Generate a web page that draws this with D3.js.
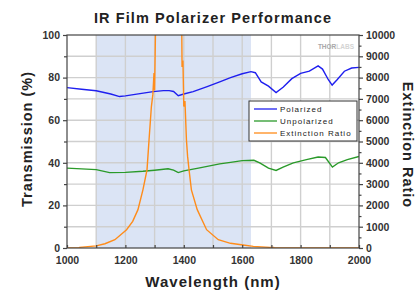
<!DOCTYPE html>
<html>
<head>
<meta charset="utf-8">
<script src="https://cdn.jsdelivr.net/npm/d3@7"></script>
<style>
  body { margin: 0; background: #fff; }
  svg text { font-family: "Liberation Sans", Arial, sans-serif; }
</style>
</head>
<body>
<div id="chart"></div>
<script>
// data
let polWl  = [1000,1050,1100,1150,1180,1200,1250,1295,1330,1350,1365,1381,1400,1432,1480,1523,1560,1600,1630,1645,1665,1690,1716,1740,1770,1800,1830,1860,1875,1895,1908,1925,1950,1975,2000];
let polVal = [75.3,74.5,73.8,72.3,71.1,71.4,72.5,73.4,73.9,73.9,73.5,71.5,72.3,73.4,75.8,78,80,81.8,82.8,82.3,78,76,73,75.5,79.5,82,83,85.5,84,79,76.5,79,83,84.5,84.8];

let unpWl  = [1000,1100,1146,1200,1260,1300,1346,1365,1381,1400,1450,1523,1560,1600,1640,1660,1690,1716,1740,1775,1820,1860,1885,1909,1930,1960,2000];
let unpVal = [37.5,36.8,35.4,35.5,36,36.5,37.2,36.6,35.4,36.2,37.5,39.5,40.2,41,41.2,40,37.5,36.4,38,40,41.5,42.7,42.5,38,40,41.5,43];

let extWl  = [1000,1040,1043,1100,1130,1164,1204,1225,1243,1260,1274,1281,1289,1294,1298,1300,1302,1305,1392,1394,1397,1400,1404,1409,1413,1418,1426,1446,1478,1518,1560,1603,1638,1695,1708,1710,2000];
let extVal = [0,0,30,100,200,390,860,1250,1800,2730,3670,5080,6640,7200,8220,7400,9200,12000,12000,8500,8800,6640,6900,5080,4300,3670,2730,1800,860,390,220,140,75,30,30,0,0];

let bandRange = [1100, 1630];
let xTicks = [1000,1200,1400,1600,1800,2000];
let yTicks = [0,20,40,60,80,100];
let y2Ticks = d3.range(0, 10001, 1000);

let seriesNames = ["Polarized", "Unpolarized", "Extinction Ratio"];
let seriesColors = ["#1f1fef", "#2a9a2a", "#ff8c1a"];

let W = 419, H = 291;
let m = {left: 67, right: 60, top: 35, bottom: 43};
let pw = W - m.left - m.right, ph = H - m.top - m.bottom;

let svg = d3.select("#chart").append("svg")
  .attr("width", W).attr("height", H);

let x = d3.scaleLinear().domain([1000, 2000]).range([m.left, m.left + pw]);
let y = d3.scaleLinear().domain([0, 100]).range([m.top + ph, m.top]);
let y2 = d3.scaleLinear().domain([0, 10000]).range([m.top + ph, m.top]);

svg.append("defs").append("clipPath").attr("id", "clip")
  .append("rect").attr("x", m.left).attr("y", m.top).attr("width", pw).attr("height", ph);

// shaded band
svg.append("rect")
  .attr("x", x(bandRange[0])).attr("y", m.top)
  .attr("width", x(bandRange[1]) - x(bandRange[0])).attr("height", ph)
  .attr("fill", "#dbe4f5");

// grid
let grid = svg.append("g").attr("stroke", "#cfcfcf").attr("stroke-width", 1.4);
d3.range(1100, 2000, 100).forEach(v => {
  grid.append("line").attr("x1", x(v)).attr("x2", x(v)).attr("y1", m.top).attr("y2", m.top + ph);
});
d3.range(10, 100, 10).forEach(v => {
  grid.append("line").attr("x1", m.left).attr("x2", m.left + pw).attr("y1", y(v)).attr("y2", y(v));
});

// watermark
let wm = svg.append("text").attr("x", m.left + pw - 5).attr("y", m.top + 14)
  .attr("text-anchor", "end").attr("font-size", 6.5).attr("font-weight", "bold");
wm.append("tspan").attr("fill", "#a8a8a8").text("THOR");
wm.append("tspan").attr("fill", "#d4d4d4").text("LABS");

// lines
let plot = svg.append("g").attr("clip-path", "url(#clip)");
function drawLine(wl, vals, scale, color) {
  let pts = wl.map((w, i) => [w, vals[i]]);
  plot.append("path").datum(pts)
    .attr("fill", "none").attr("stroke", color).attr("stroke-width", 1.4)
    .attr("d", d3.line().x(d => x(d[0])).y(d => scale(d[1])));
}
drawLine(polWl, polVal, y, seriesColors[0]);
drawLine(unpWl, unpVal, y, seriesColors[1]);
drawLine(extWl, extVal, y2, seriesColors[2]);

// frame
svg.append("rect").attr("x", m.left).attr("y", m.top).attr("width", pw).attr("height", ph)
  .attr("fill", "none").attr("stroke", "#444").attr("stroke-width", 1.2);

// axes
function styleAxis(g) {
  g.select(".domain").remove();
  g.selectAll(".tick line").attr("stroke", "#444").attr("stroke-width", 1.2);
  g.selectAll(".tick text").attr("fill", "#333").attr("font-size", 10.5).attr("font-weight", "bold")
    .attr("font-family", "Liberation Sans, Arial, sans-serif");
}
svg.append("g").attr("transform", `translate(0,${m.top + ph})`)
  .call(d3.axisBottom(x).tickValues(xTicks).tickSize(0).tickPadding(9).tickFormat(d3.format("d"))).call(styleAxis);
svg.append("g").attr("transform", `translate(0,${m.top + ph})`)
  .call(d3.axisTop(x).tickValues(d3.range(1000, 2001, 100)).tickSize(3).tickFormat("")).call(styleAxis);
svg.append("g").attr("transform", `translate(${m.left},0)`)
  .call(d3.axisLeft(y).tickValues(yTicks).tickSize(4).tickPadding(3)).call(styleAxis);
svg.append("g").attr("transform", `translate(${m.left},0)`)
  .call(d3.axisLeft(y).tickValues(d3.range(10, 100, 20)).tickSize(3).tickFormat("")).call(styleAxis);
svg.append("g").attr("transform", `translate(${m.left + pw},0)`)
  .call(d3.axisRight(y2).tickValues(y2Ticks).tickSize(4).tickPadding(3).tickFormat(d3.format("d"))).call(styleAxis);
svg.append("g").attr("transform", `translate(${m.left + pw},0)`)
  .call(d3.axisRight(y2).tickValues(d3.range(500, 10000, 1000)).tickSize(2.5).tickFormat("")).call(styleAxis);

// titles
svg.append("text").attr("x", 213).attr("y", 23).attr("text-anchor", "middle")
  .attr("font-size", 14.5).attr("font-weight", "bold").attr("fill", "#222").attr("letter-spacing", 1.1)
  .text("IR Film Polarizer Performance");
svg.append("text").attr("x", m.left + pw / 2).attr("y", 287).attr("text-anchor", "middle")
  .attr("font-size", 15).attr("font-weight", "bold").attr("fill", "#222").attr("letter-spacing", 1)
  .text("Wavelength (nm)");
svg.append("text").attr("transform", "translate(32,139) rotate(-90)").attr("text-anchor", "middle")
  .attr("font-size", 14.5).attr("font-weight", "bold").attr("fill", "#222").attr("letter-spacing", 1)
  .text("Transmission (%)");
svg.append("text").attr("transform", "translate(403,145) rotate(90)").attr("text-anchor", "middle")
  .attr("font-size", 14.5).attr("font-weight", "bold").attr("fill", "#222").attr("letter-spacing", 1)
  .text("Extinction Ratio");

// legend
let lg = svg.append("g").attr("transform", "translate(249,101)");
lg.append("rect").attr("width", 108).attr("height", 40).attr("fill", "#fff")
  .attr("stroke", "#333").attr("stroke-width", 1);
seriesNames.forEach((n, i) => {
  let yy = 8 + i * 12;
  lg.append("line").attr("x1", 5).attr("x2", 28).attr("y1", yy).attr("y2", yy)
    .attr("stroke", seriesColors[i]).attr("stroke-width", 1.3);
  lg.append("text").attr("x", 31).attr("y", yy + 3).attr("font-size", 8)
    .attr("letter-spacing", 1).attr("fill", "#222").text(n);
});
</script>
</body>
</html>
